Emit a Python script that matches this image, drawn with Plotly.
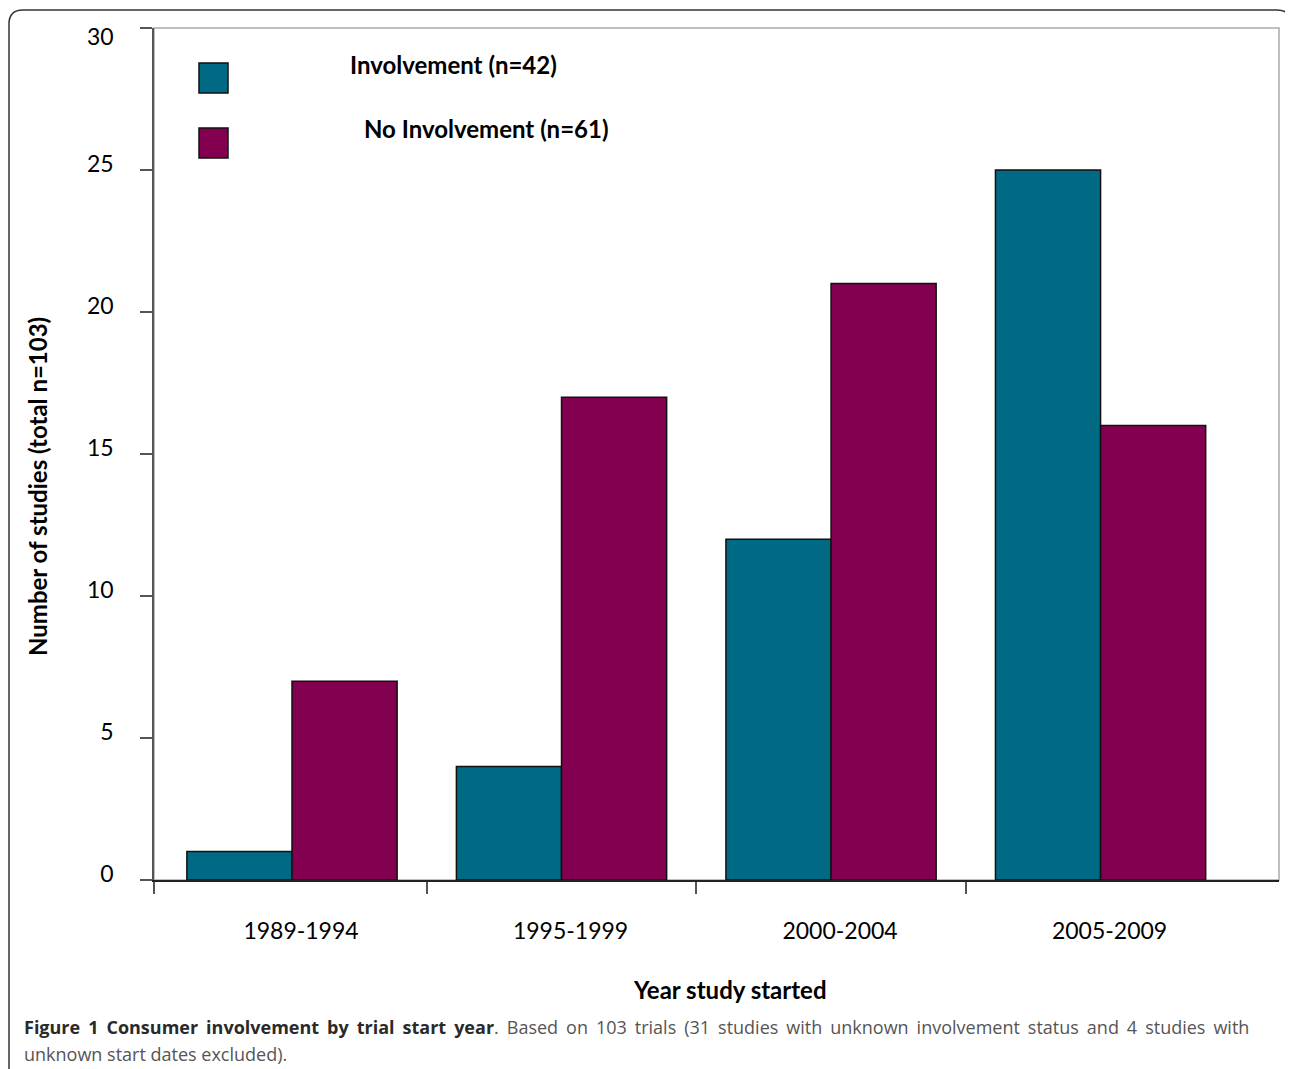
import plotly.graph_objects as go

categories = ["1989-1994", "1995-1999", "2000-2004", "2005-2009"]
involvement = [1, 4, 12, 25]
no_involvement = [7, 17, 21, 16]
series_names = ["Involvement (n=42)", "No Involvement (n=61)"]
y_ticks = [0, 5, 10, 15, 20, 25, 30]

TEAL = "#006A85"
MAGENTA = "#82004F"

# page offset (browser body margin) and figure size
O = 8
W, H = 1293 - O, 1069 - O
# plot area in reference pixel coordinates
PX0, PX1, PY0, PY1 = 154, 1279, 28, 880
L, T = PX0 - O, PY0 - O
R, B = W - (PX1 - O), H - (PY1 - O)
PW = PX1 - PX0
PH = PY1 - PY0


def px(x):
    return (x - PX0) / PW


def py(y):
    return (PY1 - y) / PH


idx = list(range(len(categories)))
# the top label sits just below its tick in the original
y_ticktext = [str(v) for v in y_ticks[:-1]] + ["\u00a0<br>" + str(y_ticks[-1])]

fig = go.Figure()
fig.add_trace(go.Bar(x=idx, y=involvement, name=series_names[0],
                     marker=dict(color=TEAL, line=dict(color="#111111", width=1.5))))
fig.add_trace(go.Bar(x=idx, y=no_involvement, name=series_names[1],
                     marker=dict(color=MAGENTA, line=dict(color="#111111", width=1.5))))

FONT = "Lato"

fig.update_layout(
    width=W, height=H,
    margin=dict(l=L, r=R, t=T, b=B, pad=0),
    paper_bgcolor="white", plot_bgcolor="white",
    barmode="group", bargap=0.22, bargroupgap=0,
    showlegend=False,
    font=dict(family=FONT, color="black"),
    xaxis=dict(
        range=[-0.512, 3.662], automargin=False,
        tickmode="array", tickvals=idx, ticktext=categories,
        ticks="", showgrid=False, zeroline=False,
        showline=True, linecolor="#222222", linewidth=1.5,
        tickfont=dict(family=FONT, size=23, color="black"),
        ticklabelstandoff=30, ticklabelshift=9,
        minor=dict(tickmode="array", tickvals=[-0.512, 0.5, 1.5, 2.5],
                   ticks="outside", ticklen=12, tickcolor="#555555", tickwidth=1.5),
    ),
    yaxis=dict(
        range=[0, 30], automargin=False,
        tickmode="array", tickvals=y_ticks, ticktext=y_ticktext,
        ticks="outside", ticklen=12, tickcolor="#555555", tickwidth=1.5,
        showgrid=False, zeroline=False,
        showline=True, linecolor="#555555", linewidth=1.5,
        tickfont=dict(family=FONT, size=23, color="black"),
        ticklabelstandoff=22, ticklabelshift=-6,
        ticklabeloverflow="allow",
    ),
)

shapes = []
# plot area border (light gray)
shapes.append(dict(type="rect", xref="paper", yref="paper", x0=0, y0=0, x1=1, y1=1,
                   line=dict(color="#AAAAAA", width=1.5), layer="below"))
# outer rounded frame
r = 14
xl, xr, yt = 9, 1291, 10
path = (f"M {px(xl)},{py(1100)} L {px(xl)},{py(yt + r)} "
        f"Q {px(xl)},{py(yt)} {px(xl + r)},{py(yt)} "
        f"L {px(xr - r)},{py(yt)} Q {px(xr)},{py(yt)} {px(xr)},{py(yt + r)} "
        f"L {px(xr)},{py(1100)}")
shapes.append(dict(type="path", xref="paper", yref="paper", path=path,
                   line=dict(color="#333333", width=1.5)))
# legend boxes
for (y0, col) in [(63, TEAL), (128, MAGENTA)]:
    shapes.append(dict(type="rect", xref="paper", yref="paper",
                       x0=px(199), x1=px(228), y0=py(y0), y1=py(y0 + 30),
                       fillcolor=col, line=dict(color="#111111", width=1.5)))
fig.update_layout(shapes=shapes)

ann = []
ann.append(dict(text="<b>" + series_names[0] + "</b>", x=px(348), y=py(64),
                xanchor="left", yanchor="middle", font=dict(size=24, family=FONT)))
ann.append(dict(text="<b>" + series_names[1] + "</b>", x=px(362), y=py(129),
                xanchor="left", yanchor="middle", font=dict(size=24, family=FONT)))
ann.append(dict(text="<b>Number of studies (total n=103)</b>", x=px(37), y=py(487),
                textangle=-90, xanchor="center", yanchor="middle",
                font=dict(size=24, family=FONT)))
ann.append(dict(text="<b>Year study started</b>", x=px(730), y=py(989),
                xanchor="center", yanchor="middle", font=dict(size=24, family=FONT)))
CAP = "Open Sans"
ann.append(dict(text="<span style='word-spacing:3.3px'>"
                "<b><span style='color:#2a2a2a'>Figure 1 Consumer involvement by trial start year</span></b>"
                ". Based on 103 trials (31 studies with unknown involvement status and 4 studies with</span>",
                x=px(22), y=py(1027), xanchor="left", yanchor="middle",
                font=dict(size=18, family=CAP, color="#555555")))
ann.append(dict(text="unknown start dates excluded).",
                x=px(22), y=py(1054), xanchor="left", yanchor="middle",
                font=dict(size=18, family=CAP, color="#555555")))
for a in ann:
    a.update(xref="paper", yref="paper", showarrow=False)
fig.update_layout(annotations=ann)

fig.write_html("out.html")
